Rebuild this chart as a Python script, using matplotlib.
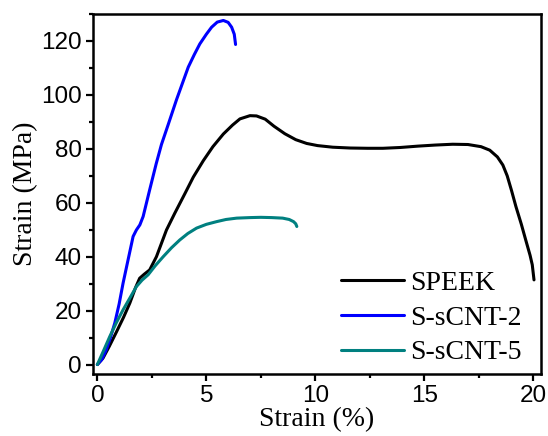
import matplotlib
matplotlib.use("Agg")
import matplotlib.pyplot as plt
from matplotlib.ticker import MultipleLocator

# stress-strain curves
speek_x = [0, 0.26, 0.55, 0.87, 1.2, 1.49, 1.75, 1.94, 2.15, 2.4, 2.71, 3.17, 3.55, 4.01,
           4.4, 4.86, 5.3, 5.78, 6.2, 6.54, 7.0, 7.3, 7.7, 8.1, 8.6, 9.1, 9.6, 10.1, 10.8,
           11.6, 12.4, 13.1, 13.9, 14.7, 15.5, 16.3, 17.0, 17.6, 18.0, 18.35, 18.6, 18.8,
           19.0, 19.2, 19.45, 19.65, 19.85, 19.95, 20.03]
speek_y = [0, 2.4, 6.8, 12.0, 17.5, 22.8, 28.5, 32.0, 33.5, 35.1, 40.0, 49.9, 56.1, 63.3,
           69.5, 75.6, 80.8, 85.5, 88.8, 91.1, 92.3, 92.2, 91.0, 88.4, 85.6, 83.4, 82.0,
           81.2, 80.6, 80.3, 80.2, 80.2, 80.5, 81.0, 81.4, 81.7, 81.6, 80.8, 79.5, 77.0,
           74.0, 70.0, 64.5, 58.6, 52.0, 46.2, 40.5, 37.0, 31.4]

cnt2_x = [0, 0.2, 0.41, 0.6, 0.8, 1.0, 1.18, 1.4, 1.64, 1.79, 1.95, 2.1, 2.4, 2.7, 2.94,
          3.25, 3.63, 4.17, 4.45, 4.7, 5.0, 5.24, 5.5, 5.78, 6.0, 6.16, 6.28, 6.34]
cnt2_y = [0, 1.8, 5.5, 10.0, 15.4, 22.5, 30.2, 38.5, 47.5, 49.9, 51.8, 54.9, 64.8, 74.5,
          81.6, 89.0, 98.2, 110.3, 115.0, 118.9, 122.5, 125.1, 127.0, 127.6, 126.9,
          125.1, 122.5, 118.7]

cnt5_x = [0, 0.25, 0.57, 0.87, 1.18, 1.5, 1.79, 2.05, 2.33, 2.65, 3.02, 3.4, 3.78, 4.15,
          4.55, 5.0, 5.47, 5.9, 6.39, 7.0, 7.5, 8.0, 8.5, 8.8, 9.0, 9.1, 9.15]
cnt5_y = [0, 4.5, 10.4, 15.5, 20.3, 24.8, 28.9, 31.3, 33.3, 36.6, 40.0, 43.3, 46.2, 48.6,
          50.6, 52.0, 53.0, 53.8, 54.3, 54.5, 54.6, 54.5, 54.3, 53.8, 53.0, 52.2, 51.2]

labels = ["SPEEK", "S-sCNT-2", "S-sCNT-5"]
colors = ["black", "#0000ff", "#008080"]

fig = plt.figure(figsize=(5.48, 4.36), dpi=100)
ax = fig.add_axes([0.1697, 0.1422, 0.8175, 0.8257])

for xs, ys, lab, c in zip([speek_x, cnt2_x, cnt5_x], [speek_y, cnt2_y, cnt5_y], labels, colors):
    ax.plot(xs, ys, color=c, lw=2.2, label=lab, solid_joinstyle="round", solid_capstyle="round")

ax.set_xlim(-0.2, 20.35)
ax.set_ylim(-3.5, 130)
ax.xaxis.set_major_locator(MultipleLocator(5))
ax.xaxis.set_minor_locator(MultipleLocator(2.5))
ax.yaxis.set_major_locator(MultipleLocator(20))
ax.yaxis.set_minor_locator(MultipleLocator(10))
ax.tick_params(which="major", direction="out", length=5, width=1.6, labelsize=17.5, pad=3)
ax.tick_params(which="minor", direction="out", length=3, width=1.6)
for lbl in ax.get_xticklabels() + ax.get_yticklabels():
    lbl.set_fontfamily("Liberation Sans")
for sp in ax.spines.values():
    sp.set_linewidth(1.8)

ax.set_xlabel("Strain (%)", fontfamily="Liberation Serif", fontsize=20, labelpad=0)
ax.set_ylabel("Strain (MPa)", fontfamily="Liberation Serif", fontsize=20, labelpad=2)

ax.legend(loc="lower right", bbox_to_anchor=(1.0, -0.03), frameon=False,
          prop={"family": "Liberation Serif", "size": 20},
          handlelength=2.3, handletextpad=0.2, labelspacing=0.33, borderaxespad=0.3)

fig.savefig("out.png", dpi=100)
